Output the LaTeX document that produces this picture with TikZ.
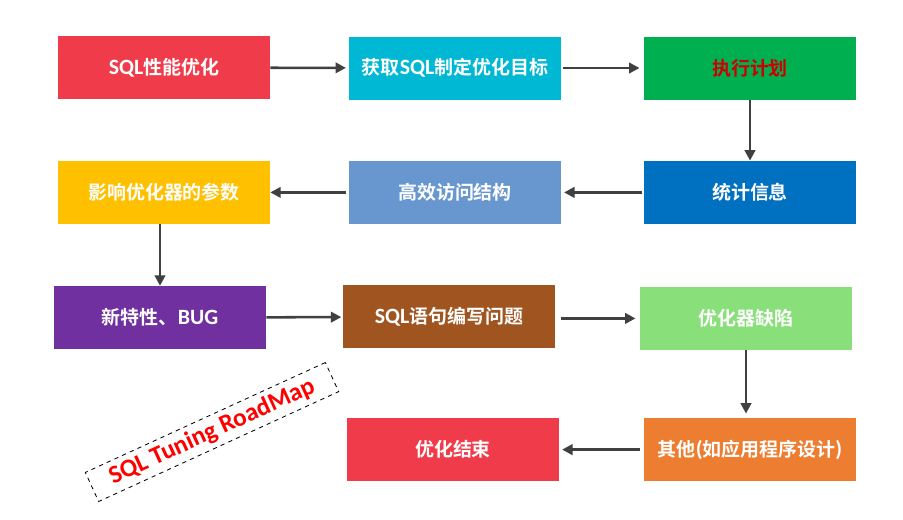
\documentclass[tikz,border=0pt]{standalone}
\usepackage{fontspec}
\setmainfont{Noto Sans CJK SC}[BoldFont={Noto Sans CJK SC Bold}]
\newfontfamily\lat{Carlito}
\newfontfamily\latin{Carlito}[Scale=1.15]
\usepackage{tikz}
\usetikzlibrary{arrows.meta,positioning}
\definecolor{stepred}{RGB}{240,60,74}
\definecolor{stepcyan}{RGB}{0,184,212}
\definecolor{stepgreen}{RGB}{0,176,80}
\definecolor{stepyellow}{RGB}{255,192,0}
\definecolor{stepsky}{RGB}{104,151,208}
\definecolor{stepblue}{RGB}{0,112,192}
\definecolor{steppurple}{RGB}{112,48,160}
\definecolor{stepbrown}{RGB}{160,84,32}
\definecolor{steplime}{RGB}{137,224,122}
\definecolor{steporange}{RGB}{237,125,49}
\definecolor{plantext}{RGB}{204,0,0}
\definecolor{arrowgray}{RGB}{64,64,64}
\newcommand{\en}[1]{{\latin #1}}

\begin{document}
\begin{tikzpicture}[
    roadstep/.style={rectangle, text=white, minimum width=5.3cm, minimum height=1.575cm,
        inner sep=0pt, font=\fontsize{13.5}{16}\selectfont\bfseries},
    arr/.style={-{Triangle[length=2.6mm,width=2.6mm]}, line width=1.8pt, arrowgray}
]
    \useasboundingbox (0,0) rectangle (22.575,-12.975);

    \node[roadstep, fill=stepred] (tune) at (4.1,-1.69) {\en{SQL}性能优化};
    \node[roadstep, fill=stepcyan] (goal) at (11.375,-1.70) {获取\en{SQL}制定优化目标};
    \node[roadstep, fill=stepgreen, text=plantext] (plan) at (18.75,-1.70) {执行计划};

    \node[roadstep, fill=stepyellow] (param) at (4.1,-4.81) {影响优化器的参数};
    \node[roadstep, fill=stepsky] (access) at (11.375,-4.81) {高效访问结构};
    \node[roadstep, fill=stepblue] (stats) at (18.75,-4.81) {统计信息};

    \node[roadstep, fill=steppurple] (bug) at (4.0,-7.94) {新特性、\en{BUG}};
    \node[roadstep, fill=stepbrown] (stmt) at (11.225,-7.92) {\en{SQL}语句编写问题};
    \node[roadstep, fill=steplime] (defect) at (18.65,-7.96) {优化器缺陷};

    \node[roadstep, fill=stepred] (finish) at (11.325,-11.24) {优化结束};
    \node[roadstep, fill=steporange] (other) at (18.75,-11.24) {其他\en{(}如应用程序设计\en{)}};

    \node[draw=black, dashed, line width=0.6pt, rotate=24.6, minimum width=6.6cm,
        minimum height=0.8cm, text=red, font=\fontsize{18}{20}\selectfont\lat\bfseries]
        (roadmap) at (5.3,-10.8) {SQL Tuning RoadMap};

    \draw[arr, shorten >=2pt] (tune) -- (goal);
    \draw[arr, shorten <=1pt, shorten >=3pt] (goal) -- (plan);
    \draw[arr] (plan) -- (stats);
    \draw[arr, shorten <=1pt, shorten >=2pt] (stats) -- (access);
    \draw[arr, shorten <=2pt] (access) -- (param);
    \draw[arr] (param.south -| bug) -- (bug);
    \draw[arr, shorten >=1pt] (bug) -- (stmt);
    \draw[arr, shorten <=4pt, shorten >=3pt] (stmt.east |- defect) -- (defect);
    \draw[arr, shorten >=3pt] (defect) -- (defect |- other.north);
    \draw[arr, shorten <=3pt, shorten >=2pt] (other) -- (finish);
\end{tikzpicture}
\end{document}
